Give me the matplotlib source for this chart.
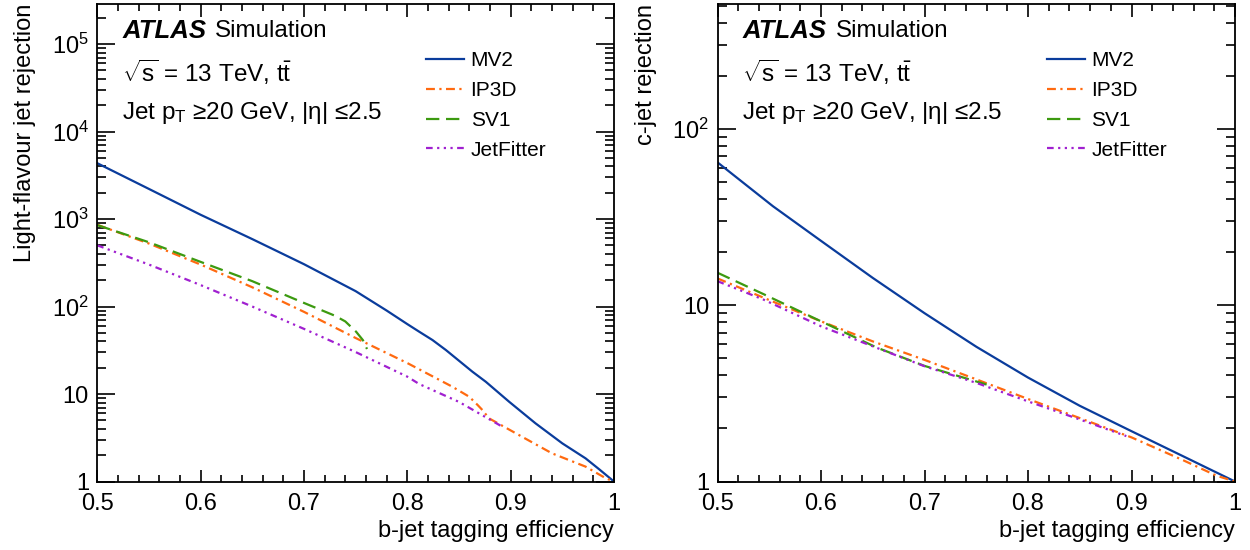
import math
import matplotlib
matplotlib.use("Agg")
import matplotlib.pyplot as plt
from matplotlib.ticker import LogLocator, MultipleLocator, FuncFormatter

plt.rcParams['font.family'] = ['Liberation Sans', 'DejaVu Sans']
plt.rcParams['mathtext.fontset'] = 'custom'
plt.rcParams['mathtext.rm'] = 'Liberation Sans'
plt.rcParams['mathtext.it'] = 'Liberation Sans:italic'
plt.rcParams['mathtext.bf'] = 'Liberation Sans:bold'

# light-flavour jet rejection vs b-jet efficiency (left panel)
l_mv2_eff = [0.50, 0.55, 0.60, 0.65, 0.70, 0.75, 0.78, 0.80, 0.8116, 0.8244, 0.8374, 0.863, 0.876, 0.8985, 0.924, 0.95, 0.9725, 0.986, 1.0]
l_mv2_rej = [4350, 2210, 1120, 590, 305, 150, 90, 63, 51.5, 41.4, 31.8, 18.0, 13.8, 8.17, 4.63, 2.73, 1.84, 1.37, 1.0]

l_ip3d_eff = [0.50, 0.55, 0.60, 0.65, 0.70, 0.75, 0.80, 0.8437, 0.86, 0.868, 0.8727, 0.879, 0.908, 0.94, 0.9725, 0.992, 1.0]
l_ip3d_rej = [860, 525, 302, 166, 87, 43.7, 22.6, 12.1, 9.3, 7.5, 6.56, 5.28, 3.4, 2.1, 1.48, 1.09, 1.0]

l_sv1_eff = [0.50, 0.55, 0.60, 0.65, 0.70, 0.73, 0.74, 0.7505, 0.757, 0.761]
l_sv1_rej = [853, 543, 324, 195, 110, 78.5, 67.6, 51.5, 41.4, 32.7]

l_jf_eff = [0.50, 0.55, 0.60, 0.65, 0.70, 0.75, 0.80, 0.8116, 0.85, 0.892]
l_jf_rej = [501, 302, 176, 100, 55.6, 30.2, 15.8, 13.0, 8.13, 4.23]

# c-jet rejection vs b-jet efficiency (right panel)
c_mv2_eff = [0.50, 0.5535, 0.60, 0.65, 0.70, 0.75, 0.80, 0.85, 0.90, 0.95, 1.0]
c_mv2_rej = [64.7, 36.5, 23.2, 14.3, 9.02, 5.82, 3.89, 2.69, 1.93, 1.39, 1.0]

c_ip3d_eff = [0.50, 0.55, 0.60, 0.65, 0.70, 0.75, 0.80, 0.85, 0.90, 0.95, 0.982, 1.0]
c_ip3d_rej = [14.2, 10.7, 8.11, 6.24, 4.90, 3.80, 2.94, 2.29, 1.78, 1.32, 1.08, 1.0]

c_sv1_eff = [0.50, 0.544, 0.60, 0.654, 0.70, 0.76]
c_sv1_rej = [15.3, 11.6, 8.11, 5.75, 4.53, 3.55]

c_jf_eff = [0.50, 0.544, 0.60, 0.654, 0.70, 0.75, 0.80, 0.85, 0.895]
c_jf_rej = [13.7, 10.8, 7.6, 5.73, 4.51, 3.63, 2.85, 2.25, 1.81]

labels = ["MV2", "IP3D", "SV1", "JetFitter"]
colors = ["#0a3c9c", "#ff6a10", "#3c9a10", "#a020d0"]
styles = ["-", (0, (4, 2, 1, 2)), (0, (6, 3)), (0, (3, 2, 1, 2, 1, 2, 1, 2))]


def log_label(v, pos):
    if v == 1:
        return "1"
    if v == 10:
        return "10"
    return r"$10^{%d}$" % int(round(math.log10(v)))


def style_axes(ax, ymax, ylabel):
    ax.set_xlim(0.5, 1.0)
    ax.set_yscale("log")
    ax.set_ylim(1, ymax)
    ax.xaxis.set_major_locator(MultipleLocator(0.1))
    ax.xaxis.set_minor_locator(MultipleLocator(0.02))
    ax.xaxis.set_major_formatter(FuncFormatter(lambda v, p: "1" if abs(v - 1) < 1e-6 else "%.1f" % v))
    ax.yaxis.set_major_locator(LogLocator(base=10, numticks=10))
    ax.yaxis.set_minor_locator(LogLocator(base=10, subs=range(2, 10), numticks=20))
    ax.yaxis.set_major_formatter(FuncFormatter(log_label))
    ax.tick_params(which="both", direction="in", top=True, right=True, labelsize=17, width=1.2)
    ax.tick_params(axis="x", which="major", length=9, pad=8)
    ax.tick_params(axis="x", which="minor", length=4.8)
    ax.tick_params(axis="y", which="major", length=12.7, pad=6)
    ax.tick_params(axis="y", which="minor", length=6.7)
    for s in ax.spines.values():
        s.set_linewidth(1.3)
    ax.set_xlabel("b-jet tagging efficiency", fontsize=17, loc="right")
    ax.set_ylabel(ylabel, fontsize=17, loc="top", labelpad=11)

    ax.text(0.048, 0.943, "ATLAS", transform=ax.transAxes, fontsize=18.5,
            fontweight="bold", fontstyle="italic", va="center")
    ax.text(0.228, 0.943, "Simulation", transform=ax.transAxes, fontsize=17.4, va="center")
    ax.text(0.048, 0.858, r"$\sqrt{\mathrm{s}}$ = 13 TeV, t$\bar{\mathrm{t}}$", transform=ax.transAxes,
            fontsize=17.5, va="center")
    ax.text(0.048, 0.772, r"Jet p$_{\mathrm{T}}$ ≥20 GeV, |η| ≤2.5",
            transform=ax.transAxes, fontsize=17.5, va="center")


fig = plt.figure(figsize=(12.5, 5.5), dpi=100)
ax1 = fig.add_axes([0.0778, 0.1245, 0.4134, 0.8682])
ax2 = fig.add_axes([0.5740, 0.1245, 0.4140, 0.8682])

left_data = [(l_mv2_eff, l_mv2_rej), (l_ip3d_eff, l_ip3d_rej), (l_sv1_eff, l_sv1_rej), (l_jf_eff, l_jf_rej)]
right_data = [(c_mv2_eff, c_mv2_rej), (c_ip3d_eff, c_ip3d_rej), (c_sv1_eff, c_sv1_rej), (c_jf_eff, c_jf_rej)]

for ax, data in [(ax1, left_data), (ax2, right_data)]:
    for (x, y), lab, col, ls in zip(data, labels, colors, styles):
        ax.plot(x, y, color=col, linestyle=ls, linewidth=1.6, label=lab)
    ax.legend(loc="upper left", bbox_to_anchor=(0.637, 0.901), frameon=False, fontsize=15,
              handlelength=1.8, handletextpad=0.32, labelspacing=0.52, borderaxespad=0, borderpad=0)

style_axes(ax1, 2.87e5, "Light-flavour jet rejection")
style_axes(ax2, 512, "c-jet rejection")

fig.savefig("out.png", dpi=100)
